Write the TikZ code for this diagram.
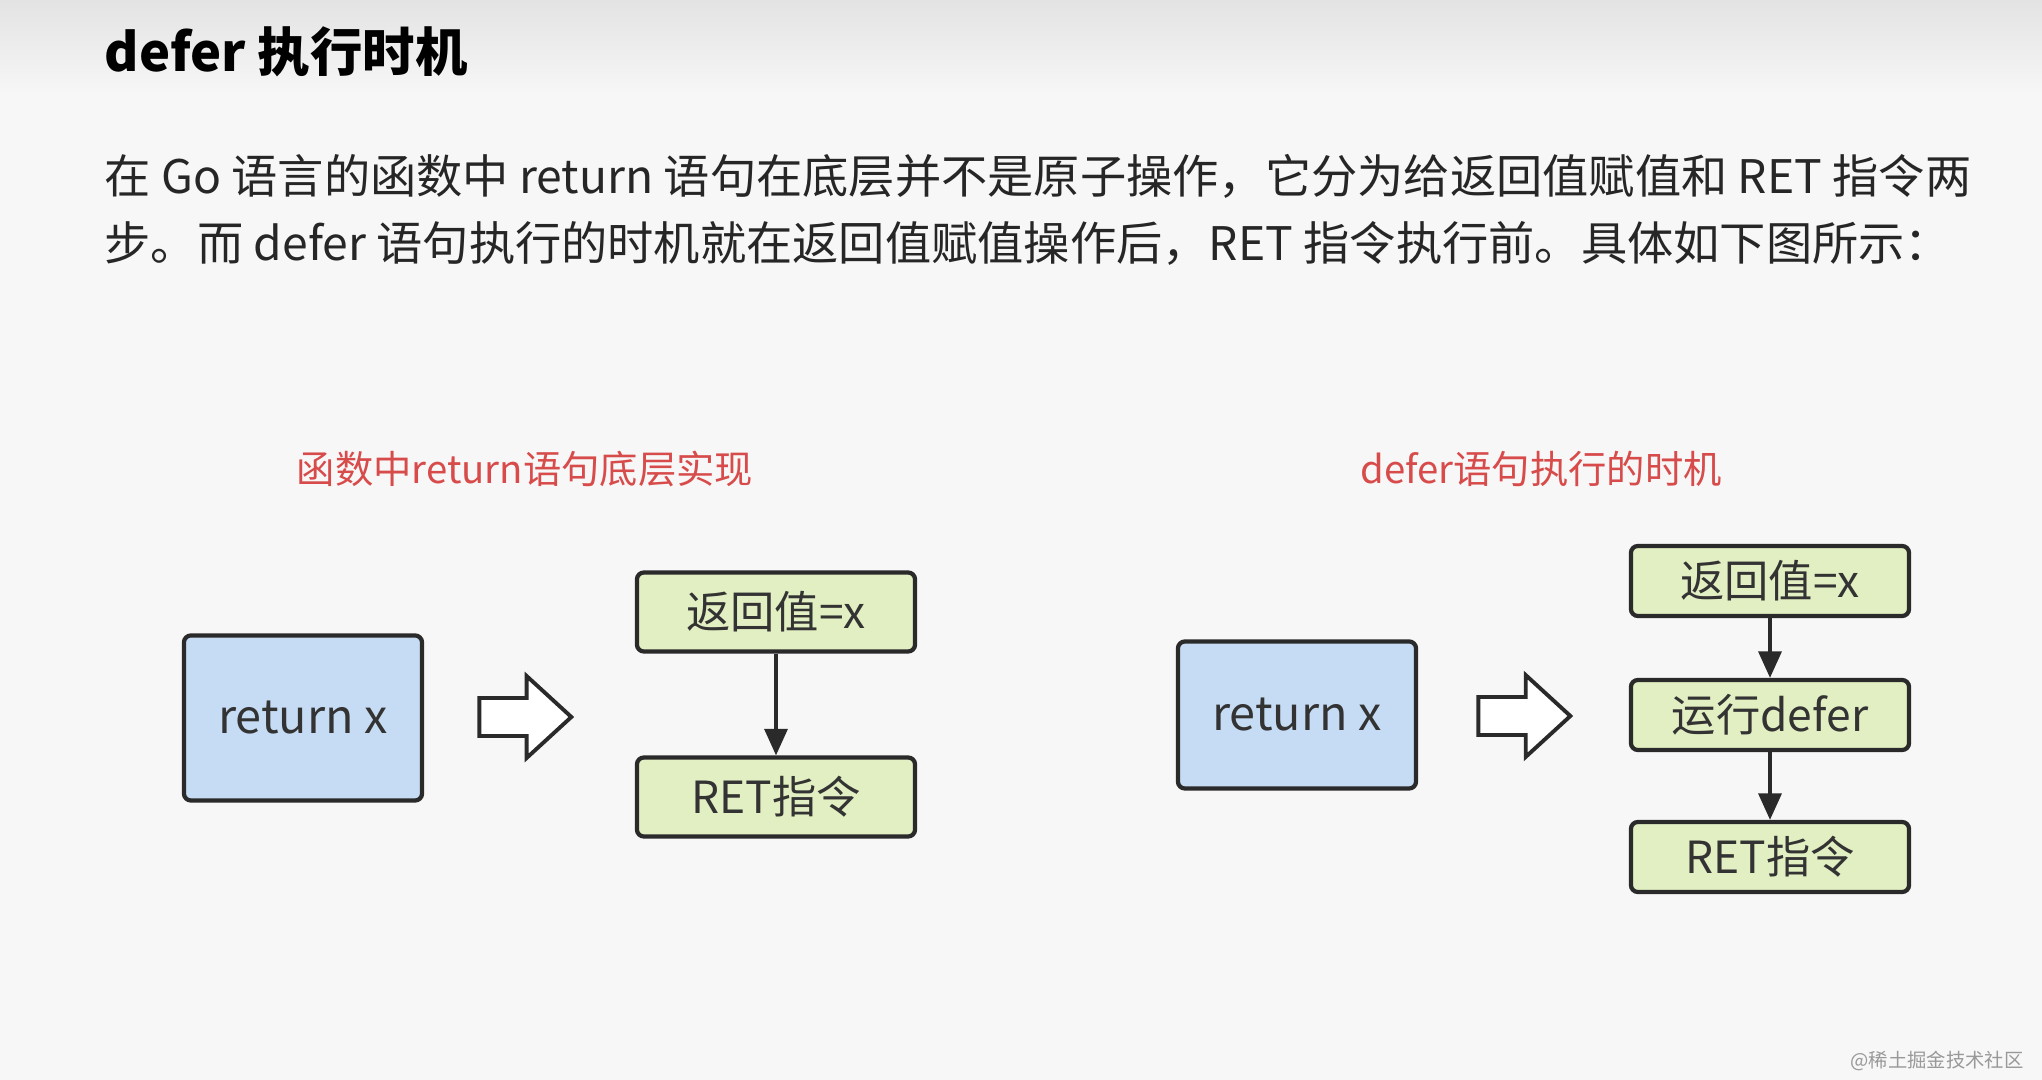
\documentclass[tikz,border=0pt]{standalone}
\usepackage{fontspec}
\setmainfont{Noto Sans CJK SC}
\usetikzlibrary{arrows.meta, positioning, shapes.arrows}
\definecolor{bggray}{HTML}{F7F7F7}
\definecolor{topgray}{HTML}{E3E3E3}
\definecolor{capred}{HTML}{D84B4B}
\definecolor{bluefill}{HTML}{C6DCF4}
\definecolor{greenfill}{HTML}{E2EFC2}
\definecolor{edgegray}{HTML}{2A2A2A}

\begin{document}
\begin{tikzpicture}[
    x=0.01cm, y=-0.01cm,
    %% Blue source boxes
    rbox/.style = {
      draw=edgegray, line width=1.2pt,
      rounded corners=2pt, fill=bluefill,
      text=black!80, font=\fontsize{13.3}{15}\selectfont,
      minimum width=2.38cm, minimum height=1.65cm, inner sep=0pt},
    %% Green step boxes
    gbox/.style = {
      draw=edgegray, line width=1.2pt,
      rounded corners=2pt, fill=greenfill,
      text=black!80, font=\fontsize{12.6}{14}\selectfont,
      minimum width=2.78cm, minimum height=0.79cm, inner sep=0pt},
    %% Hollow block arrow
    hollow/.style = {
      single arrow, draw=edgegray, line width=1.1pt, fill=white,
      minimum height=0.92cm, inner sep=0.17cm,
      single arrow head extend=0.22cm, single arrow tip angle=85},
    %% Red captions
    capt/.style = {font=\fontsize{10.9}{13}\selectfont, text=capred},
    %% Page text
    ptext/.style = {anchor=west, inner sep=0pt, text=black!85, font=\fontsize{13.15}{15}\selectfont},
    %% Arrows
    arr/.style = {-{Triangle[length=7.5pt, width=6.5pt]}, line width=1pt, edgegray},
  ]

    %% ── Page background ────────────────────────────────────────────────
    \useasboundingbox (0,0) rectangle (2042,1080);
    \fill[bggray] (0,0) rectangle (2042,1080);
    \shade[top color=topgray, bottom color=bggray] (0,0) rectangle (2042,95);

    %% ── Heading and text ───────────────────────────────────────────────
    \node[ptext, text=black, font=\fontsize{14.9}{17}\selectfont\bfseries] (title) at (104,52) {defer 执行时机};
    \node[ptext] (line1) at (104,176)
      {在 Go 语言的函数中 return 语句在底层并不是原子操作，它分为给返回值赋值和 RET 指令两};
    \node[ptext] (line2) at (104,243)
      {步。而 defer 语句执行的时机就在返回值赋值操作后，RET 指令执行前。具体如下图所示：};

    %% ── Left: return underneath ────────────────────────────────────────
    \node[capt] (C1) at (525,469) {函数中return语句底层实现};
    \node[rbox] (R1) at (303,718) {return x};
    \node[hollow] (H1) at (515,717) {};
    \node[gbox] (V1) at (776,612) {返回值=x};
    \node[gbox] (T1) at (776,797) {RET指令};
    \draw[arr] (V1) -- (T1);

    %% ── Right: when defer runs ─────────────────────────────────────────
    \node[capt] (C2) at (1541,469) {defer语句执行的时机};
    \node[rbox, minimum height=1.47cm] (R2) at (1297,715) {return x};
    \node[hollow] (H2) at (1514,716) {};
    \node[gbox, minimum height=0.70cm] (V2) at (1770,581) {返回值=x};
    \node[gbox, minimum height=0.70cm] (D2) at (1770,715) {运行defer};
    \node[gbox, minimum height=0.70cm] (T2) at (1770,857) {RET指令};
    \draw[arr] (V2) -- (D2);
    \draw[arr] (D2) -- (T2);

    %% watermark
    \node[anchor=east, font=\fontsize{5.5}{6}\selectfont, text=black!40] (wm) at (2036,1061) {@稀土掘金技术社区};

\end{tikzpicture}
\end{document}
